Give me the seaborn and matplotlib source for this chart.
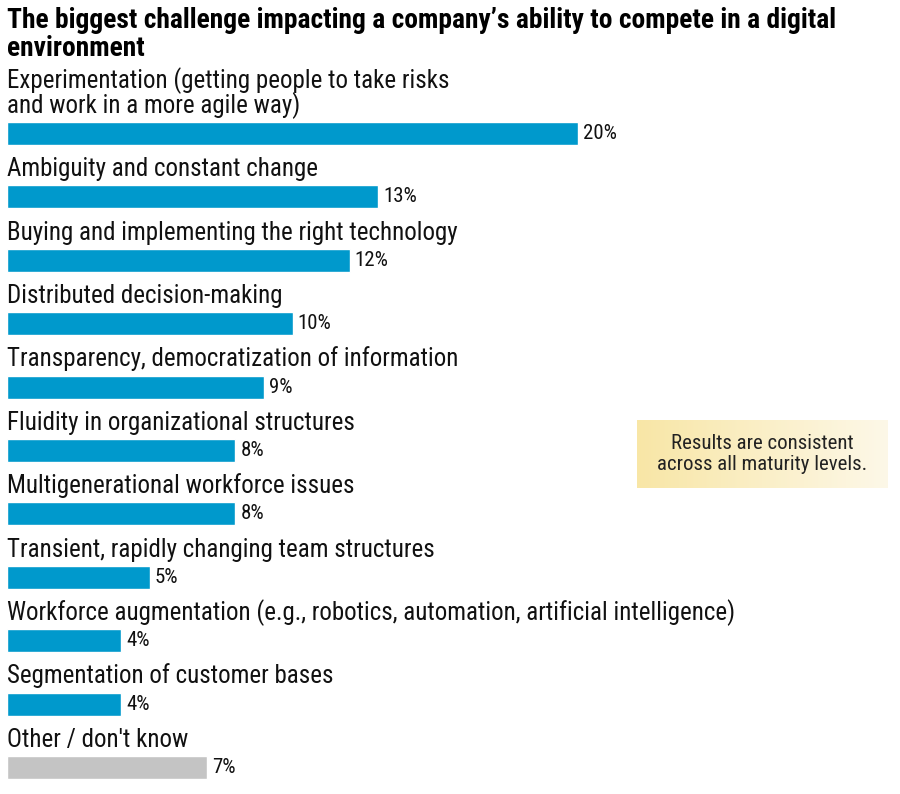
import matplotlib
matplotlib.use("Agg")
import matplotlib.pyplot as plt
import seaborn as sns
import numpy as np
from matplotlib.colors import LinearSegmentedColormap

title = "The biggest challenge impacting a company\u2019s ability to compete in a digital\nenvironment"
categories = [
    "Experimentation (getting people to take risks\nand work in a more agile way)",
    "Ambiguity and constant change",
    "Buying and implementing the right technology",
    "Distributed decision-making",
    "Transparency, democratization of information",
    "Fluidity in organizational structures",
    "Multigenerational workforce issues",
    "Transient, rapidly changing team structures",
    "Workforce augmentation (e.g., robotics, automation, artificial intelligence)",
    "Segmentation of customer bases",
    "Other / don't know",
]
values = [20, 13, 12, 10, 9, 8, 8, 5, 4, 4, 7]
note = "Results are consistent\nacross all maturity levels."

BLUE = "#0099cc"
GRAY = "#c4c4c4"
colors = [BLUE] * 10 + [GRAY]

sns.set_theme(style="white")
plt.rcParams["font.family"] = ["Roboto Condensed", "Archivo Narrow",
                               "Asap Condensed", "DejaVu Sans"]

W, H = 900, 794
fig = plt.figure(figsize=(9, 7.94), dpi=100)
ax = fig.add_axes([0, 0, 1, 1])

sns.barplot(x=values, y=categories, hue=categories, palette=colors,
            orient="h", width=0.36, legend=False, saturation=1, ax=ax)

# map data units onto the pixel layout of the reference
px_per_pct = 28.55
row_px = 63.4
first_row = 133.5
ax.set_xlim(-7 / px_per_pct, (W - 7) / px_per_pct)
ax.set_ylim((H - first_row) / row_px, -first_row / row_px)
ax.axis("off")

# category labels sitting above each bar
for i, lab in enumerate(categories):
    lines = lab.split("\n")
    for j, line in enumerate(reversed(lines)):
        ax.text(0.0, i - 0.327 - j * 24.5 / row_px, line, fontsize=18,
                va="baseline", ha="left", color="#111111")

for c in ax.containers:
    ax.bar_label(c, fmt="%g%%", padding=3.5, fontsize=15, color="#111111")

# title
for j, line in enumerate(title.split("\n")):
    fig.text(7 / W, 1 - (28 + j * 28) / H, line, fontsize=19.8,
             fontweight="heavy", va="baseline", ha="left", color="black")

# note box with soft yellow gradient
nax = fig.add_axes([637 / W, 1 - 488 / H, 251 / W, 68 / H])
grad = np.linspace(0, 1, 256).reshape(1, -1)
cm = LinearSegmentedColormap.from_list("note", ["#f8e6a6", "#fdf8e8"])
nax.imshow(grad, aspect="auto", cmap=cm, extent=[0, 1, 0, 1])
nax.set_xlim(0, 1)
nax.set_ylim(0, 1)
nax.axis("off")
nax.text(0.5, 0.5, note, ha="center", va="center", fontsize=15,
         color="#222222", linespacing=1.15)

fig.savefig("out.png", dpi=100)
